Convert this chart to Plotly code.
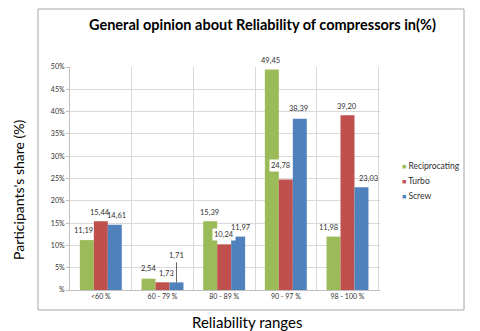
import plotly.graph_objects as go

# Reliability range categories and participant shares (%) per compressor type
categories = ["<60 %", "60 - 79 %", "80 - 89 %", "90 - 97 %", "98 - 100 %"]
reciprocating = [11.19, 2.54, 15.39, 49.45, 11.98]
turbo = [15.44, 1.73, 10.24, 24.78, 39.20]
screw = [14.61, 1.71, 11.97, 38.39, 23.03]
y_tickvals = [0, 5, 10, 15, 20, 25, 30, 35, 40, 45, 50]
y_ticktext = ["%", "5%", "10%", "15%", "20%", "25%", "30%", "35%", "40%", "45%", "50%"]


def fmt(v):
    return f"{v:.2f}".replace(".", ",")


series = [
    ("Reciprocating", reciprocating, "#9BBB59"),
    ("Turbo", turbo, "#C0504D"),
    ("Screw", screw, "#4F81BD"),
]

# plot area in pixels: x 70..380, y 67..290
L, R, T, B = 70, 100, 67, 41
PW, PH = 480 - L - R, 331 - T - B
BAR_W = 14  # pixel width of one bar inside a group


def px(x):
    return (x - L) / PW


def py(y):
    return (331 - B - y) / PH


# per-label nudges (dx, dy in px) so neighbouring value labels stay readable
label_nudge = {
    "Reciprocating": [(-3, 10), (0, 10), (-1, 9), (-1, 9), (-5, 9)],
    "Turbo": [(-1, 9), (4, 9), (0, 10), (-5, 14), (-1, 9)],
    "Screw": [(2, 9), (0, 0), (3, 9), (-1, 10), (7, 9)],
}
boxed = {("Turbo", 2), ("Turbo", 3)}
leader = {("Screw", 1)}

fig = go.Figure()
annotations = []
for s, (name, vals, color) in enumerate(series):
    fig.add_trace(go.Bar(
        name=name, x=categories, y=vals,
        marker=dict(color=color, line=dict(color=color, width=0)),
        showlegend=False,
    ))
    for i, (cat, v) in enumerate(zip(categories, vals)):
        dx, dy = label_nudge[name][i]
        ann = dict(text=fmt(v), x=cat, y=v, xref="x", yref="y",
                   xshift=(s - 1) * BAR_W + dx, yshift=dy,
                   xanchor="center", yanchor="middle", showarrow=False,
                   font=dict(family="Lato", size=7.5, color="#303030"))
        if (name, i) in boxed:
            ann.update(bgcolor="white", borderpad=1)
        if (name, i) in leader:
            ann.update(showarrow=True, arrowhead=0, arrowwidth=0.8,
                       arrowcolor="#404040", ax=0, ay=-20, yanchor="bottom",
                       yshift=0, standoff=0)
        annotations.append(ann)

annotations += [
    dict(text="<b>General opinion about Reliability of compressors in(%)</b>",
         xref="paper", yref="paper", x=px(262), y=py(25),
         showarrow=False, xanchor="center", yanchor="middle",
         font=dict(family="Lato", size=14.5, color="#000000")),
    dict(text="Participants's share (%)", textangle=-90,
         xref="paper", yref="paper", x=px(18), y=py(190),
         showarrow=False, xanchor="center", yanchor="middle",
         font=dict(family="Lato", size=14, color="#000000")),
    dict(text="Reliability ranges",
         xref="paper", yref="paper", x=px(247), y=py(322),
         showarrow=False, xanchor="center", yanchor="middle",
         font=dict(family="Lato", size=15, color="#000000")),
]

# legend entries: colour swatch and series name
for i, (name, vals, color) in enumerate(series):
    annotations.append(dict(
        text=f'<span style="color:{color};font-size:7px">■</span> {name}',
        xref="paper", yref="paper", x=px(400), y=py(166 + 15 * i),
        showarrow=False, xanchor="left", yanchor="middle",
        font=dict(family="Lato", size=8.5, color="#303030")))

fig.update_layout(
    width=480, height=331,
    margin=dict(l=L, r=R, t=T, b=B),
    paper_bgcolor="white", plot_bgcolor="white",
    barmode="group", bargap=0.32, bargroupgap=0,
    showlegend=False,
    xaxis=dict(type="category", tickson="boundaries", showgrid=True,
               gridcolor="#D9D9D9", showline=True, linecolor="#BFBFBF",
               ticks="", tickfont=dict(family="Lato", size=7, color="#303030")),
    yaxis=dict(range=[0, 50], tickvals=y_tickvals, ticktext=y_ticktext,
               showgrid=True, gridcolor="#D9D9D9", showline=True,
               linecolor="#BFBFBF", ticks="outside", ticklen=3,
               tickcolor="#BFBFBF", zeroline=False,
               tickfont=dict(family="Lato", size=7, color="#303030")),
    shapes=[dict(type="rect", xref="paper", yref="paper",
                 x0=px(38), x1=px(464), y0=py(310), y1=py(9),
                 line=dict(color="#A6A6A6", width=1), layer="below")],
    annotations=annotations,
)

fig.write_html("out.html")
